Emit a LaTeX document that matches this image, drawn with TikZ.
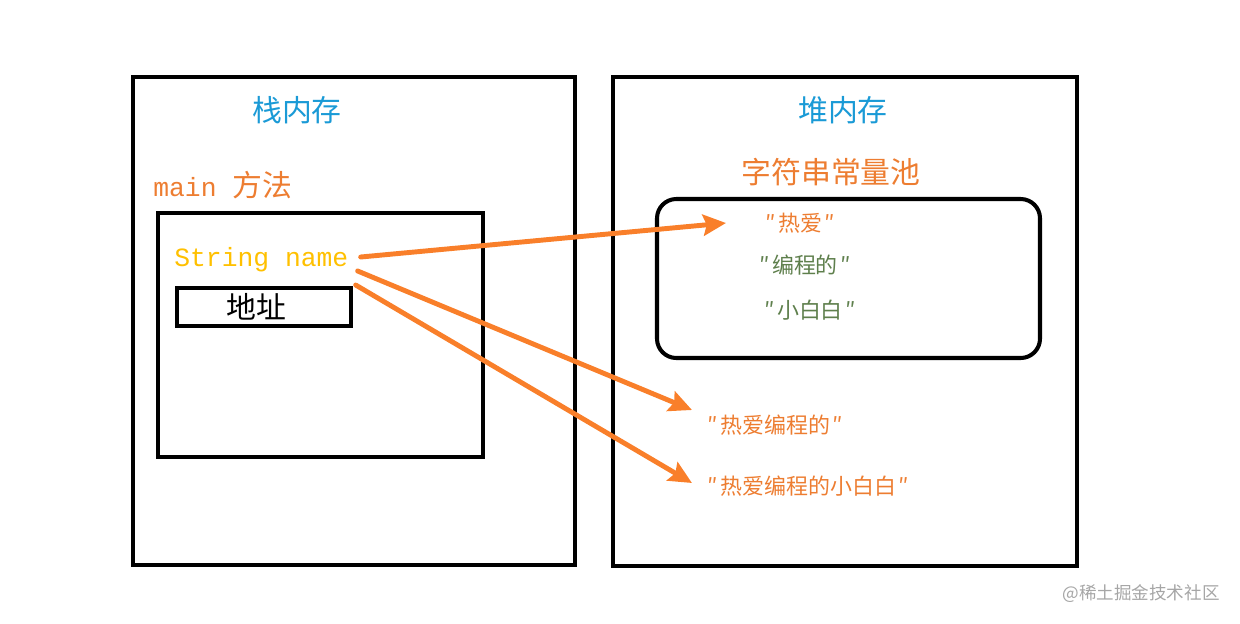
\documentclass[tikz,border=0pt]{standalone}
\usepackage{fontspec}
\setmainfont{Liberation Serif}
\setmonofont{Liberation Mono}
\newfontfamily\cjk{Noto Sans CJK SC}
\usetikzlibrary{arrows.meta}

\definecolor{memblue}{HTML}{1A9AD6}
\definecolor{strorange}{HTML}{ED7D31}
\definecolor{ptrorange}{HTML}{F97F2A}
\definecolor{vargold}{HTML}{FFC000}
\definecolor{poolgreen}{HTML}{5E7F4C}
\definecolor{markgray}{HTML}{A6A6A6}

\tikzset{
  area/.style={draw=black, line width=2.3pt},
  title/.style={font=\cjk\fontsize{17}{20}\selectfont, text=memblue},
  small/.style={font=\cjk\fontsize{12.5}{14}\selectfont},
  ptr/.style={draw=ptrorange, line width=2.8pt, line cap=round, -{Stealth[length=13pt,width=12pt,inset=2pt]}}
}
\newcommand{\qq}[1]{″\kern1.5pt#1\kern1.5pt″}

\begin{document}
\begin{tikzpicture}[x=0.02cm, y=-0.02cm, every node/.style={inner sep=0pt}]
	\useasboundingbox (0,0) rectangle (1240,623);
	% stack
	\draw[area] (133,77) rectangle (575,565);
	\node[title] (stack) at (297,110) {栈内存};
	\node[anchor=west, text=strorange, font=\fontsize{15}{18}\selectfont] (main) at (153,185) {\ttfamily main \cjk\fontsize{17}{20}\selectfont 方法};
	\draw[draw=black, line width=2pt] (158,213) rectangle (483,457);
	\node[anchor=west, text=vargold, font=\ttfamily\fontsize{15}{18}\selectfont] (strname) at (174,260) {String name};
	\node[draw, line width=2.3pt, minimum width=3.48cm, minimum height=0.76cm, font=\cjk\fontsize{17}{18}\selectfont] (addr) at (264,307) {\hspace*{-9pt}地址};
	% heap
	\draw[area] (613,77) rectangle (1077,566);
	\node[title] (heap) at (843,110) {堆内存};
	\node[title, text=strorange] (pool) at (831,172) {字符串常量池};
	\draw[area, rounded corners=11pt] (657,199) rectangle (1040,358);
	\node[small, text=strorange] (reai) at (800,223) {\qq{热爱}};
	\node[small, text=poolgreen] (bcd) at (805,265) {\qq{编程的}};
	\node[small, text=poolgreen] (xbb) at (810,310) {\qq{小白白}};
	\node[small, text=strorange, anchor=west] (reaibc) at (707,425) {\qq{热爱编程的}};
	\node[small, text=strorange, anchor=west] (reaixbb) at (707,486) {\qq{热爱编程的小白白}};
	% references
	\draw[ptr] ([shift={(12,-3)}]strname.east) -- ([xshift=-22]reai.west);
	\draw[ptr] ([shift={(9,11)}]strname.east) -- ([shift={(-15,-15)}]reaibc.west);
	\draw[ptr] ([shift={(7,25)}]strname.east) -- ([shift={(-15,-3)}]reaixbb.west);
	\node[text=markgray, font=\cjk\fontsize{10}{12}\selectfont] (mark) at (1141,594) {@稀土掘金技术社区};
\end{tikzpicture}
\end{document}
